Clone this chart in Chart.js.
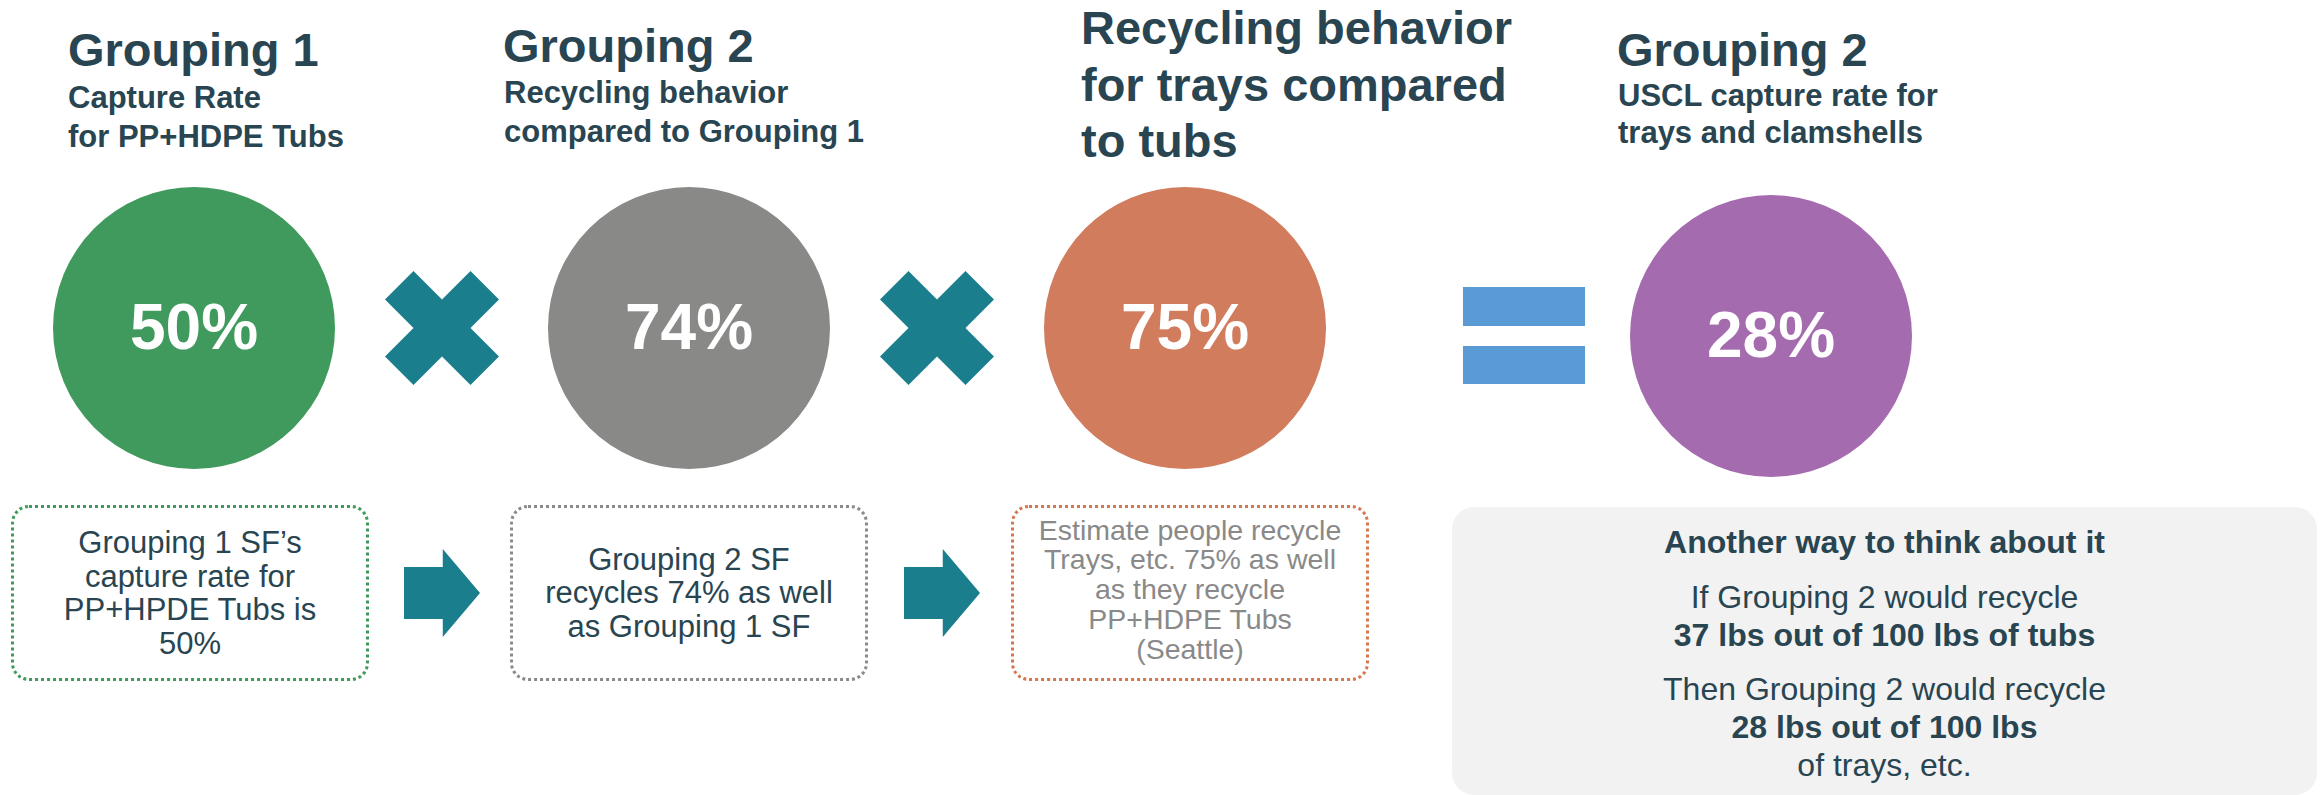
<!DOCTYPE html>
<html>
<head>
<meta charset="utf-8">
<title>Capture rate for trays and clamshells</title>
<script src="https://cdn.jsdelivr.net/npm/chart.js@4/dist/chart.umd.min.js"></script>
<style>
html, body { margin: 0; padding: 0; background: #fff; }
body {
    width: 2320px; height: 795px; position: relative; overflow: hidden;
    font-family: 'Liberation Sans', Arial, sans-serif; color: #284551;
}
.title { position: absolute; font-size: 47px; font-weight: bold; line-height: 56px; white-space: nowrap; }
.sub { position: absolute; font-size: 31px; font-weight: bold; line-height: 39px; white-space: nowrap; }
.circle { position: absolute; width: 282px; height: 282px; }
.times {
    position: absolute; top: 271px; width: 114px; height: 114px; background: #1b7e8c;
    clip-path: polygon(25% 0, 50% 25%, 75% 0, 100% 25%, 75% 50%, 100% 75%, 75% 100%, 50% 75%, 25% 100%, 0 75%, 25% 50%, 0 25%);
}
.eqbar { position: absolute; left: 1463px; width: 122px; height: 39px; background: #5b9bd5; }
.note {
    position: absolute; top: 505px; height: 176px; width: 358px; box-sizing: border-box;
    border: 3px dotted; border-radius: 18px;
    display: flex; align-items: center; justify-content: center; text-align: center;
    font-size: 31px; line-height: 33.5px; color: #284551; white-space: nowrap;
}
.arrow {
    position: absolute; top: 549px; width: 76px; height: 88px; background: #1b7e8c;
    clip-path: polygon(0 20.5%, 51% 20.5%, 51% 0, 100% 50%, 51% 100%, 51% 79.5%, 0 79.5%);
}
.alt { position: absolute; left: 1452px; top: 507px; width: 865px; height: 288px; background: #f2f2f2; border-radius: 22px; }
.alt div { position: absolute; left: 0; right: 0; text-align: center; font-size: 32px; line-height: 38px; white-space: nowrap; }
.alt b { font-weight: bold; }
</style>
</head>
<body>

<!-- headings -->
<div class="title" style="left:68px; top:22px;">Grouping 1</div>
<div class="sub" style="left:68px; top:78px;">Capture Rate<br>for PP+HDPE Tubs</div>

<div class="title" style="left:503px; top:18px;">Grouping 2</div>
<div class="sub" style="left:504px; top:73px;">Recycling behavior<br>compared to Grouping 1</div>

<div class="title" style="left:1081px; top:0px; line-height:56.5px;">Recycling behavior<br>for trays compared<br>to tubs</div>

<div class="title" style="left:1617px; top:22px;">Grouping 2</div>
<div class="sub" style="left:1618px; top:77px; line-height:37px;">USCL capture rate for<br>trays and clamshells</div>

<!-- circles (Chart.js) -->
<div class="circle" style="left:53px; top:187px;"><canvas width="282" height="282"></canvas></div>
<div class="circle" style="left:548px; top:187px;"><canvas width="282" height="282"></canvas></div>
<div class="circle" style="left:1044px; top:187px;"><canvas width="282" height="282"></canvas></div>
<div class="circle" style="left:1630px; top:195px;"><canvas width="282" height="282"></canvas></div>

<!-- operators -->
<div class="times" style="left:385px;"></div>
<div class="times" style="left:880px;"></div>
<div class="eqbar" style="top:287px;"></div>
<div class="eqbar" style="top:346px; height:38px;"></div>

<!-- notes under the circles -->
<div class="note" style="left:11px; border-color:#3f9a5b;">Grouping 1 SF’s<br>capture rate for<br>PP+HPDE Tubs is<br>50%</div>
<div class="arrow" style="left:404px;"></div>
<div class="note" style="left:510px; border-color:#8a8a8a;">Grouping 2 SF<br>recycles 74% as well<br>as Grouping 1 SF</div>
<div class="arrow" style="left:904px;"></div>
<div class="note" style="left:1011px; border-color:#d5764f; color:#898989; font-size:28.5px; line-height:29.8px; padding-bottom:6px;">Estimate people recycle<br>Trays, etc. 75% as well<br>as they recycle<br>PP+HDPE Tubs<br>(Seattle)</div>

<div class="alt">
    <div style="top:16px;"><b>Another way to think about it</b></div>
    <div style="top:71px;">If Grouping 2 would recycle</div>
    <div style="top:109px;"><b>37 lbs out of 100 lbs of tubs</b></div>
    <div style="top:163px;">Then Grouping 2 would recycle</div>
    <div style="top:201px;"><b>28 lbs out of 100 lbs</b></div>
    <div style="top:239px;">of trays, etc.</div>
</div>

<script>
// Chart data
const steps = ['Grouping 1 capture rate', 'Grouping 2 vs Grouping 1', 'Trays vs tubs', 'Grouping 2 USCL capture rate'];
const rates = [50, 74, 75, 28];
const stepColors = ['#419a5d', '#898a88', '#d17c5d', '#a56baf'];

// Write the percentage in the middle of each circle
const centerLabel = {
    id: 'centerLabel',
    afterDatasetsDraw(chart) {
        const arc = chart.getDatasetMeta(0).data[0];
        const value = chart.data.datasets[0].data[0];
        const ctx = chart.ctx;
        ctx.save();
        ctx.fillStyle = '#ffffff';
        ctx.font = 'bold 64px "Liberation Sans", Arial, sans-serif';
        ctx.textAlign = 'center';
        ctx.textBaseline = 'alphabetic';
        ctx.fillText(value + '%', arc.x, arc.y + 21);
        ctx.restore();
    }
};

document.querySelectorAll('.circle canvas').forEach(function(canvas, i) {
    new Chart(canvas, {
        type: 'pie',
        data: {
            labels: [steps[i]],
            datasets: [{
                data: [rates[i]],
                backgroundColor: stepColors[i],
                borderWidth: 0,
                hoverOffset: 0
            }]
        },
        options: {
            responsive: false,
            animation: false,
            events: [],
            layout: { padding: 0 },
            plugins: {
                legend: { display: false },
                tooltip: { enabled: false }
            }
        },
        plugins: [centerLabel]
    });
});
</script>
</body>
</html>
